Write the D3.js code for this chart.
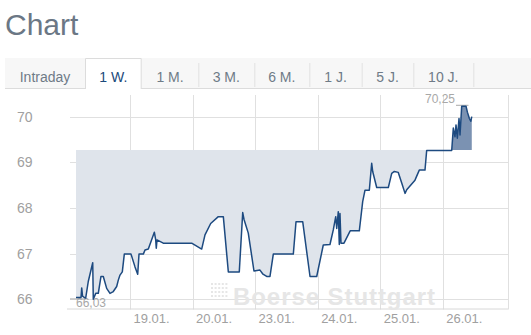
<!DOCTYPE html>
<html><head><meta charset="utf-8">
<script src="https://cdn.jsdelivr.net/npm/d3@7"></script>
<style>
html,body{margin:0;padding:0;background:#fff;}
svg{display:block;font-family:"Liberation Sans",Arial,sans-serif;}
</style></head>
<body>
<svg id="c" width="531" height="335"></svg>
<script>
// ---- data ----
const tabs = ["Intraday","1 W.","1 M.","3 M.","6 M.","1 J.","5 J.","10 J."];
const activeTab = "1 W.";
const dayTicks = [1,2,3,4,5,6];
const dayLabels = ["19.01.","20.01.","23.01.","24.01.","25.01.","26.01."];
const yTicks = [66,67,68,69,70];
const prevClose = 69.27;
const minValue = 66.03, minLabel = "66,03";
const maxValue = 70.25, maxLabel = "70,25";
// time position in trading days (0 = start of 18.01.)
const dayPos = [0.137,0.217,0.228,0.241,0.269,0.292,0.333,0.404,0.413,0.452,0.493,0.536,0.573,0.627,0.680,0.733,0.787,0.813,0.840,0.877,0.909,1.016,1.080,1.123,1.144,1.213,1.240,1.293,1.389,1.411,1.420,1.432,1.532,1.986,2.146,2.199,2.290,2.412,2.492,2.572,2.747,2.802,2.823,2.891,2.982,3.078,3.126,3.185,3.238,3.291,3.611,3.654,3.761,3.878,3.985,4.090,4.197,4.250,4.289,4.305,4.330,4.346,4.357,4.373,4.421,4.520,4.666,4.720,4.757,4.826,4.864,4.880,4.944,5.130,5.184,5.226,5.289,5.344,5.397,5.424,5.556,5.625,5.716,5.743,6.143,6.169,6.196,6.212,6.233,6.260,6.276,6.303,6.372,6.394,6.426,6.448,6.464];
const prices = [66.04,66.04,66.25,66.07,66.04,66.03,66.39,66.80,66.00,66.13,66.13,66.50,66.50,66.24,66.13,66.17,66.28,66.42,66.53,66.60,66.99,66.99,66.71,66.55,66.99,66.99,67.08,67.10,67.47,67.30,67.12,67.30,67.23,67.23,67.10,67.41,67.66,67.81,67.81,66.60,66.60,67.90,67.75,67.45,66.62,66.64,66.55,66.50,66.50,66.99,66.99,67.70,67.70,66.50,66.50,67.19,67.20,67.52,67.81,67.55,67.92,67.20,67.88,67.23,67.23,67.50,67.50,68.14,68.39,68.39,68.98,68.80,68.45,68.45,68.76,68.80,68.78,68.55,68.32,68.40,68.61,68.83,68.83,69.26,69.26,69.75,69.56,69.82,69.53,69.96,69.60,70.23,70.23,70.10,69.96,69.90,70.00];

const data = dayPos.map((d,i)=>({d, v:prices[i]}));
const svg = d3.select("#c");

// ---- title ----
svg.append("text").attr("x",5).attr("y",35).text("Chart")
  .attr("font-size",30).attr("fill","#6b7785");

// ---- tabs ----
const tabEdges = [5,85,141.7,198.3,254.3,309.3,361.7,413.3,473.3];
svg.append("rect").attr("x",5).attr("y",58).attr("width",526).attr("height",30).attr("fill","#f7f7f7");
svg.append("line").attr("x1",5).attr("x2",531).attr("y1",88.5).attr("y2",88.5).attr("stroke","#dcdcdc");
tabs.forEach((t,i)=>{
  const x0 = tabEdges[i], x1 = tabEdges[i+1];
  const active = t===activeTab;
  if(active){
    svg.append("path").attr("d",`M${x0+0.5},89V58.5H${x1-0.5}V89`).attr("fill","#fff").attr("stroke","#dcdcdc");
  } else if(i>0 && tabs[i-1]!==activeTab){
    svg.append("line").attr("x1",x0+0.5).attr("x2",x0+0.5).attr("y1",63).attr("y2",87).attr("stroke","#e2e2e2");
  }
  svg.append("text").attr("x",(x0+x1)/2).attr("y",81.5).attr("text-anchor","middle")
    .attr("font-size",14).attr("fill",active?"#1b4a7b":"#6f7b87").text(t);
});
svg.append("line").attr("x1",tabEdges[8]+0.5).attr("x2",tabEdges[8]+0.5).attr("y1",63).attr("y2",87).attr("stroke","#e2e2e2");

// ---- scales ----
const x = d3.scaleLinear().domain([0,7]).range([67.45,67.45+62.55*7]);
const y = d3.scaleLinear().domain([66,70]).range([299.3,116.7]);
const pLeft=70, pRight=508, pTop=95, pBottom=308.5;

// gridlines
const g = svg.append("g");
g.selectAll(".hg").data(yTicks).join("line")
  .attr("x1",pLeft).attr("x2",pRight).attr("y1",d=>Math.round(y(d))+0.5).attr("y2",d=>Math.round(y(d))+0.5)
  .attr("stroke","#e0e0e0");
g.selectAll(".vg").data(dayTicks).join("line")
  .attr("x1",d=>Math.round(x(d))+0.5).attr("x2",d=>Math.round(x(d))+0.5).attr("y1",pTop).attr("y2",pBottom+1)
  .attr("stroke","#e0e0e0");
g.append("line").attr("x1",pRight+0.5).attr("x2",pRight+0.5).attr("y1",pTop).attr("y2",pBottom+1).attr("stroke","#e0e0e0");
g.append("line").attr("x1",67).attr("x2",pRight).attr("y1",pBottom+0.5).attr("y2",pBottom+0.5).attr("stroke","#d8d8d8");

// y labels
svg.selectAll(".yl").data(yTicks).join("text")
  .attr("x",17).attr("y",d=>y(d)).attr("dy","0.36em")
  .attr("font-size",14).attr("fill","#a0a0a0").text(d=>d);
// x labels
svg.selectAll(".xl").data(dayTicks).join("text")
  .attr("x",d=>x(d)+3.5).attr("y",322.5)
  .attr("font-size",13).attr("fill","#a0a0a0").text((d,i)=>dayLabels[i]);

// watermark
const wm = svg.append("g").attr("fill","#e6e6e6");
for(let r=0;r<4;r++) for(let c=0;c<5;c++)
  wm.append("rect").attr("x",211+c*3.6).attr("y",283+r*4).attr("width",2).attr("height",2);
wm.append("text").attr("x",233).attr("y",305).attr("font-size",24).attr("font-weight","bold")
  .attr("textLength",202).text("Boerse Stuttgart");

// ---- area with threshold ----
const ty = y(prevClose);
const defs = svg.append("defs");
defs.append("clipPath").attr("id","above").append("rect").attr("x",0).attr("y",0).attr("width",531).attr("height",ty);
defs.append("clipPath").attr("id","below").append("rect").attr("x",0).attr("y",ty).attr("width",531).attr("height",335-ty);
const area = d3.area().x(d=>x(d.d)).y0(ty).y1(d=>y(d.v));
svg.append("path").datum(data).attr("d",area).attr("fill","#dfe4eb").attr("clip-path","url(#below)");
svg.append("path").datum(data).attr("d",area).attr("fill","#7b92b2").attr("clip-path","url(#above)");

// min / max markers
svg.append("line").attr("x1",pLeft).attr("x2",85).attr("y1",y(minValue)+1).attr("y2",y(minValue)+1).attr("stroke","#a8a8a8");
svg.append("text").attr("x",76).attr("y",307).attr("font-size",12).attr("fill","#a8a8a8").text(minLabel);
svg.append("line").attr("x1",456).attr("x2",468.5).attr("y1",y(maxValue)).attr("y2",y(maxValue)).attr("stroke","#a8a8a8");
svg.append("text").attr("x",455).attr("y",102.5).attr("text-anchor","end").attr("font-size",12).attr("fill","#a8a8a8").text(maxLabel);

// line
svg.append("path").datum(data).attr("d",d3.line().x(d=>x(d.d)).y(d=>y(d.v)))
  .attr("fill","none").attr("stroke","#1d4a80").attr("stroke-width",1.5).attr("stroke-linejoin","round");
</script>
</body></html>
